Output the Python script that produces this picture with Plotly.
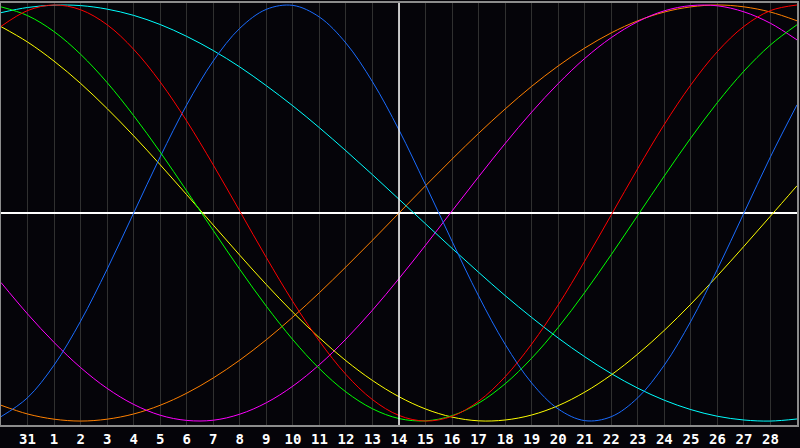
"""
Biorhythm chart: seven cycles over a 30-day window, dark screen style.
"""

import plotly.graph_objects as go

# Day index along the window (0 = left edge, 30 = right edge)
DAY_INDEX = list(range(31))

# Tick positions and their calendar labels
TICK_POS = list(range(1, 30))
TICK_LABELS = ['31'] + [str(d) for d in range(1, 29)]

# Cycle values, one per day index
PHYSICAL = [-0.979, -0.888, -0.731, -0.520, -0.270, 0.000, 0.270, 0.520, 0.731, 0.888,
            0.979, 0.998, 0.942, 0.817, 0.631, 0.399, 0.136, -0.136, -0.399, -0.631,
            -0.817, -0.942, -0.998, -0.979, -0.888, -0.731, -0.520, -0.270, 0.000, 0.270,
            0.520]
EMOTIONAL = [0.897, 0.973, 1.000, 0.977, 0.905, 0.787, 0.630, 0.442, 0.231, 0.009,
             -0.214, -0.426, -0.616, -0.776, -0.897, -0.973, -1.000, -0.977, -0.905, -0.787,
             -0.630, -0.442, -0.231, -0.009, 0.214, 0.426, 0.616, 0.776, 0.897, 0.973,
             1.000]
INTELLECTUAL = [0.991, 0.949, 0.872, 0.763, 0.627, 0.468, 0.293, 0.106, -0.084, -0.271,
                -0.448, -0.609, -0.748, -0.860, -0.941, -0.988, -0.999, -0.974, -0.914, -0.821,
                -0.698, -0.550, -0.382, -0.200, -0.011, 0.178, 0.361, 0.531, 0.682, 0.808,
                0.905]
INTUITIVE = [-0.334, -0.485, -0.622, -0.743, -0.843, -0.920, -0.972, -0.997, -0.996, -0.967,
             -0.912, -0.832, -0.729, -0.606, -0.467, -0.315, -0.155, 0.010, 0.174, 0.334,
             0.485, 0.622, 0.743, 0.843, 0.920, 0.972, 0.997, 0.996, 0.967, 0.912,
             0.832]
AESTHETIC = [0.896, 0.822, 0.730, 0.623, 0.502, 0.371, 0.232, 0.088, -0.058, -0.203,
             -0.344, -0.477, -0.600, -0.710, -0.805, -0.883, -0.942, -0.981, -0.999, -0.995,
             -0.971, -0.926, -0.861, -0.778, -0.678, -0.564, -0.438, -0.302, -0.160, -0.015,
             0.131]
AWARENESS = [-0.924, -0.966, -0.991, -1.000, -0.991, -0.966, -0.924, -0.866, -0.793, -0.707,
             -0.609, -0.500, -0.383, -0.259, -0.131, 0.000, 0.131, 0.259, 0.383, 0.500,
             0.609, 0.707, 0.793, 0.866, 0.924, 0.966, 0.991, 1.000, 0.991, 0.966,
             0.924]
SPIRITUAL = [0.963, 0.988, 0.999, 0.997, 0.980, 0.950, 0.906, 0.849, 0.781, 0.702,
             0.612, 0.515, 0.410, 0.299, 0.184, 0.066, -0.052, -0.170, -0.285, -0.397,
             -0.502, -0.601, -0.691, -0.772, -0.842, -0.900, -0.945, -0.977, -0.995, -1.000,
             -0.990]

TODAY_INDEX = 15

SERIES = [
    ('Awareness', AWARENESS, '#ff8000'),
    ('Intuitive', INTUITIVE, '#ff00ff'),
    ('Spiritual', SPIRITUAL, '#00ffff'),
    ('Aesthetic', AESTHETIC, '#ffff00'),
    ('Physical', PHYSICAL, '#1a6cff'),
    ('Intellectual', INTELLECTUAL, '#00ff00'),
    ('Emotional', EMOTIONAL, '#ff0000'),
]

BG = '#050409'

fig = go.Figure()

for name, values, color in SERIES:
    fig.add_trace(go.Scatter(
        x=DAY_INDEX,
        y=values,
        name=name,
        mode='lines',
        line=dict(color=color, width=1, shape='spline', smoothing=1),
        hoverinfo='skip',
    ))

# "today" marker
fig.add_vline(x=TODAY_INDEX, line=dict(color='white', width=1.5), layer='above')

fig.update_layout(
    width=800,
    height=448,
    paper_bgcolor=BG,
    plot_bgcolor=BG,
    showlegend=False,
    margin=dict(l=1, r=1, t=1, b=20),
    xaxis=dict(
        range=[0, 30],
        tickvals=TICK_POS,
        ticktext=TICK_LABELS,
        tickfont=dict(family='DejaVu Sans Mono', size=14, color='white', weight='bold'),
        showgrid=True,
        gridcolor='#303030',
        gridwidth=1,
        zeroline=False,
        showline=True,
        linecolor='#8c8c8c',
        linewidth=2,
        mirror=True,
        ticks='',
    ),
    yaxis=dict(
        range=[-1.019, 1.0095],
        showticklabels=False,
        showgrid=False,
        zeroline=True,
        zerolinecolor='white',
        zerolinewidth=1.5,
        showline=True,
        linecolor='#8c8c8c',
        linewidth=2,
        mirror=True,
        ticks='',
    ),
)

# drop the page's default body margin so the chart fills the window
fig.write_html(
    "out.html",
    config={'displayModeBar': False},
    post_script="document.body.style.margin='0';document.body.style.background='%s';" % BG,
)
